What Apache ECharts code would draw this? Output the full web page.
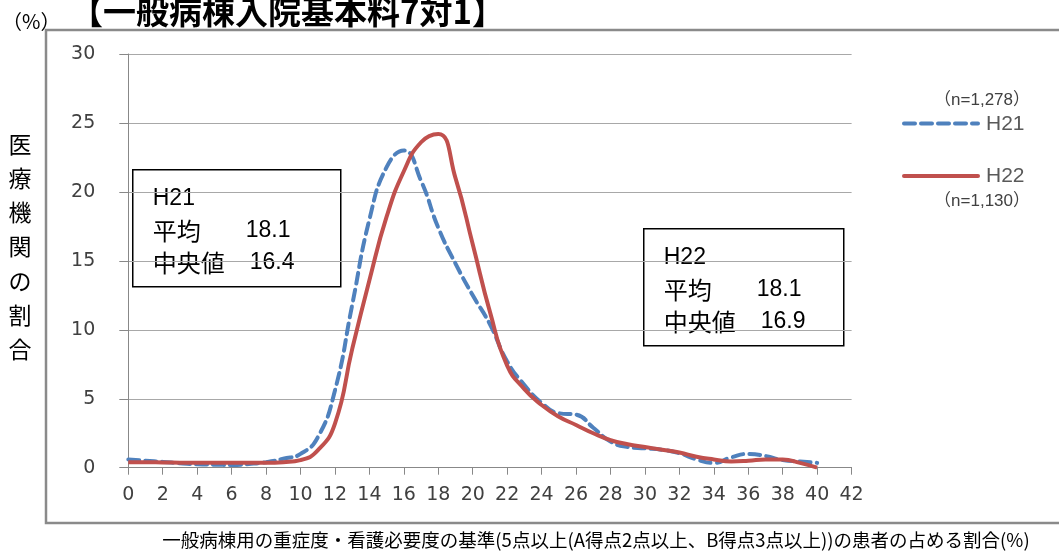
<!DOCTYPE html>
<html>
<head>
<meta charset="utf-8">
<script src="https://cdn.jsdelivr.net/npm/echarts@6/dist/echarts.min.js"></script>
<style>
  html, body { margin: 0; padding: 0; background: #fff; }
  #chart { width: 1059px; height: 551px; }
</style>
</head>
<body>
<div id="chart"></div>
<script>
// Share of hospitals by percentage of patients meeting the severity / nursing-need criteria
const xValues = [0, 1, 2, 3, 4, 5, 6, 7, 8, 9, 10, 11, 12, 13, 14, 15, 16, 17, 18, 19, 20,
                 21, 22, 23, 24, 25, 26, 27, 28, 29, 30, 31, 32, 33, 34, 35, 36, 37, 38, 39, 40];
const h21Values = [0.6, 0.5, 0.42, 0.32, 0.25, 0.22, 0.2, 0.27, 0.4, 0.65, 1.0,
                   2.2, 5.6, 11.8, 18.0, 21.8, 23.0, 20.8, 17.4, 14.8, 12.5,
                   10.4, 7.7, 6.0, 4.7, 3.95, 3.85, 2.9, 1.9, 1.5, 1.4,
                   1.3, 1.05, 0.6, 0.35, 0.75, 1.0, 0.85, 0.55, 0.45, 0.35];
const h22Values = [0.4, 0.4, 0.38, 0.36, 0.35, 0.35, 0.35, 0.35, 0.35, 0.4, 0.55,
                   1.25, 3.2, 8.6, 13.6, 18.2, 21.5, 23.6, 24.2, 21.0, 16.2,
                   11.3, 7.4, 5.7, 4.55, 3.7, 3.1, 2.5, 2.0, 1.7, 1.5,
                   1.3, 1.1, 0.8, 0.6, 0.45, 0.5, 0.6, 0.6, 0.35, 0.0];
const xTicks = { min: 0, max: 42, step: 2 };
const yTicks = { min: 0, max: 30, step: 5 };

const seriesNames = ['H21', 'H22'];
const sampleSizes = ['（n=1,278）', '（n=1,130）'];
const h21Stats = ['H21', '平均', '18.1', '中央値', '16.4'];
const h22Stats = ['H22', '平均', '18.1', '中央値', '16.9'];

const titleText = '【一般病棟入院基本料7対1】';
const unitText = '（%）';
const yName = ['医', '療', '機', '関', 'の', '割', '合'];
const xName = '一般病棟用の重症度・看護必要度の基準(5点以上(A得点2点以上、B得点3点以上))の患者の占める割合(%)';

const BLUE = '#4F81BD';
const RED = '#C0504D';
const LATIN = '"Liberation Sans", "Noto Sans CJK JP", sans-serif';
const CJK = '"Noto Sans CJK JP", sans-serif';
const NUM = '"DejaVu Sans", sans-serif';

const pairs = (ys) => xValues.map((x, i) => [x, ys[i]]);

function statBox(left, top, w, h, stats) {
  const txt = (x, y, s, size, family) => ({
    type: 'text', x: x, y: y,
    style: { text: s, fill: '#000', font: `${size}px ${family}`, textVerticalAlign: 'middle' }
  });
  return {
    type: 'group', left: left, top: top,
    children: [
      { type: 'rect', shape: { x: 0, y: 0, width: w, height: h },
        style: { fill: '#fff', stroke: '#000', lineWidth: 1.5 } },
      txt(20, 29, stats[0], 23, LATIN),
      txt(20, 61, stats[1], 24, CJK),
      txt(113, 61, stats[2], 23, LATIN),
      txt(20, 93, stats[3], 24, CJK),
      txt(117, 93, stats[4], 23, LATIN)
    ]
  };
}

const chart = echarts.init(document.getElementById('chart'), null, { renderer: 'canvas' });

const graphics = [
  // outer frame (runs past the right edge)
  { type: 'rect', shape: { x: 46, y: 30, width: 1100, height: 493 },
    style: { fill: 'none', stroke: '#8a8a8a', lineWidth: 2.5 }, z: 0 },
  { type: 'text', x: 70, y: 11,
    style: { text: titleText, font: `bold 33px ${CJK}`, fill: '#000', textVerticalAlign: 'middle' }, z: 10 },
  { type: 'text', x: 2, y: 21,
    style: { text: unitText, font: `20px ${CJK}`, fill: '#000', textVerticalAlign: 'middle' } },
  { type: 'text', x: 596, y: 540,
    style: { text: xName, font: `18.5px ${CJK}`, fill: '#000', textAlign: 'center', textVerticalAlign: 'middle' } },
  // legend
  { type: 'text', x: 1030, y: 100,
    style: { text: sampleSizes[0], font: `17px ${LATIN}`, fill: '#404040', textAlign: 'right', textVerticalAlign: 'middle' } },
  { type: 'line', shape: { x1: 904, y1: 123.5, x2: 978, y2: 123.5 },
    style: { stroke: BLUE, lineWidth: 4, lineDash: [11, 6], lineCap: 'round' } },
  { type: 'text', x: 986, y: 124,
    style: { text: seriesNames[0], font: `21px ${LATIN}`, fill: '#595959', textVerticalAlign: 'middle' } },
  { type: 'line', shape: { x1: 904, y1: 176, x2: 978, y2: 176 },
    style: { stroke: RED, lineWidth: 4, lineCap: 'round' } },
  { type: 'text', x: 986, y: 176,
    style: { text: seriesNames[1], font: `21px ${LATIN}`, fill: '#595959', textVerticalAlign: 'middle' } },
  { type: 'text', x: 1030, y: 201,
    style: { text: sampleSizes[1], font: `17px ${LATIN}`, fill: '#404040', textAlign: 'right', textVerticalAlign: 'middle' } },
  statBox(132, 169, 208, 117, h21Stats),
  statBox(643, 228, 200, 117, h22Stats)
];
yName.forEach((ch, i) => {
  graphics.push({ type: 'text', x: 20, y: 144 + i * 34.2,
    style: { text: ch, font: `23px ${CJK}`, fill: '#000', textAlign: 'center', textVerticalAlign: 'middle' } });
});

chart.setOption({
  animation: false,
  backgroundColor: '#fff',
  grid: { left: 128.3, right: 207.4, top: 54, bottom: 83.3, containLabel: false },
  xAxis: {
    type: 'value', min: xTicks.min, max: xTicks.max, interval: xTicks.step,
    axisLine: { show: true, onZero: false, lineStyle: { color: '#888', width: 1 } },
    axisTick: { show: true, length: 7, lineStyle: { color: '#888' } },
    axisLabel: { color: '#404040', fontSize: 19, fontFamily: NUM, margin: 18 },
    splitLine: { show: false }
  },
  yAxis: {
    type: 'value', min: yTicks.min, max: yTicks.max, interval: yTicks.step,
    axisLine: { show: true, lineStyle: { color: '#888', width: 1 } },
    axisTick: { show: true, length: 9, lineStyle: { color: '#888' } },
    axisLabel: { color: '#404040', fontSize: 19, fontFamily: NUM, margin: 33 },
    splitLine: { show: true, lineStyle: { color: '#a8a8a8', width: 1 } }
  },
  series: [
    { name: seriesNames[0], type: 'line', data: pairs(h21Values), smooth: 0.5, symbol: 'none',
      lineStyle: { color: BLUE, width: 4, type: [11, 6], cap: 'round' }, z: 3 },
    { name: seriesNames[1], type: 'line', data: pairs(h22Values), smooth: 0.5, symbol: 'none',
      lineStyle: { color: RED, width: 4 }, z: 4 }
  ],
  graphic: graphics
});
</script>
</body>
</html>
